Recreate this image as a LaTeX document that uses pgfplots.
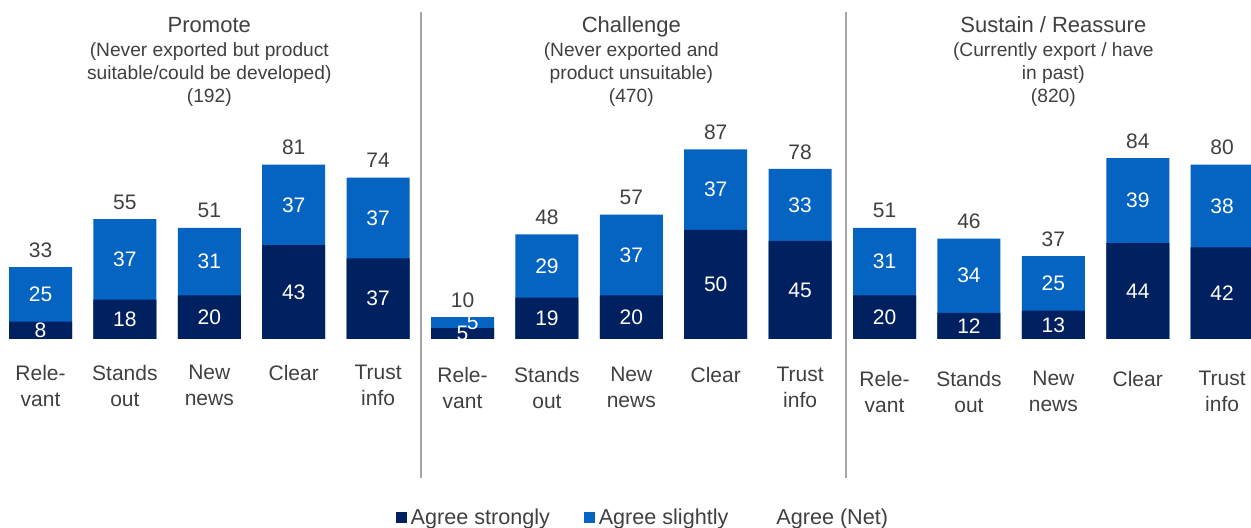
\documentclass[border=0pt]{standalone}
\usepackage{pgfplots}
\pgfplotsset{compat=1.18}
\usepackage{pgfplotstable}
\usepackage{fontspec}
\setmainfont{Liberation Sans}
\definecolor{dark}{HTML}{002060}
\definecolor{light}{HTML}{0563C1}
\definecolor{txt}{HTML}{404040}
\definecolor{sepc}{HTML}{A6A6A6}

\pgfplotstableread{
x strong slight total sx
0 8 25 33 0
1 18 37 55 1
2 20 31 51 2
3 43 37 81 3
4 37 37 74 4
5 5 5 10 5.12
6 19 29 48 6
7 20 37 57 7
8 50 37 87 8
9 45 33 78 9
10 20 31 51 10
11 12 34 46 11
12 13 25 37 12
13 44 39 84 13
14 42 38 80 14
}\data

\begin{document}
\begin{tikzpicture}
\begin{axis}[
  scale only axis, width=625.5pt, height=264pt,
  xmin=-0.48, xmax=14.342, ymin=-86.7, ymax=155.5,
  hide axis,
  legend columns=3,
  legend style={at={(axis cs:7.15,-82)}, anchor=center, draw=none, fill=none,
    font=\fontsize{10.8}{12}\selectfont, text=txt,
    /tikz/every even column/.append style={column sep=15pt}},
]
\addplot[ybar, bar width=31.5pt, bar shift=0pt, fill=light, draw=none, forget plot]
  table[x=x, y expr=\thisrow{strong}+\thisrow{slight}] {\data};
\addplot[ybar, bar width=31.5pt, bar shift=0pt, fill=dark, draw=none, forget plot]
  table[x=x, y=strong] {\data};

% segment labels
\addplot[only marks, mark=none, forget plot, nodes near coords, point meta=explicit symbolic,
  nodes near coords style={anchor=center, text=white, font=\fontsize{10.5}{12}\selectfont}]
  table[x=x, y expr=\thisrow{strong}/2, meta=strong] {\data};
\addplot[only marks, mark=none, forget plot, nodes near coords, point meta=explicit symbolic,
  nodes near coords style={anchor=center, text=white, font=\fontsize{10.5}{12}\selectfont}]
  table[x=sx, y expr=\thisrow{strong}+\thisrow{slight}/2, meta=slight] {\data};
% totals
\addplot[only marks, mark=none, forget plot, nodes near coords, point meta=explicit symbolic,
  nodes near coords style={anchor=center, yshift=8.5pt, text=txt, font=\fontsize{10.5}{12}\selectfont}]
  table[x=x, y expr=\thisrow{strong}+\thisrow{slight}, meta=total] {\data};

\addlegendimage{legend image code/.code={\fill[dark] (0pt,-2.5pt) rectangle (5pt,2.5pt);}}
\addlegendentry{Agree strongly}
\addlegendimage{legend image code/.code={\fill[light] (0pt,-2.5pt) rectangle (5pt,2.5pt);}}
\addlegendentry{Agree slightly}
\addlegendimage{legend image code/.code={\path[draw=none,fill=none] (0pt,-2.5pt) rectangle (5pt,2.5pt);}}
\addlegendentry{Agree (Net)}

% separators
\draw[sepc, line width=0.75pt] (axis cs:4.508,150) -- (axis cs:4.508,-63.8);
\draw[sepc, line width=0.75pt] (axis cs:9.544,150) -- (axis cs:9.544,-63.8);

% titles
\tikzset{ttl/.style={anchor=base, text=txt, inner sep=0pt, font=\fontsize{11}{12}\selectfont},
  sub/.style={anchor=north, align=center, text=txt, inner sep=0pt, font=\fontsize{9.6}{11.5}\selectfont},
  cat/.style={anchor=north, align=center, text=txt, inner sep=0pt, font=\fontsize{10.5}{13}\selectfont}}
\node[ttl] at (axis cs:2,140.7) {Promote};
\node[sub] at (axis cs:2,136.0) {(Never exported but product\\suitable/could be developed)\\(192)};
\node[ttl] at (axis cs:7,140.7) {Challenge};
\node[sub] at (axis cs:7,136.0) {(Never exported and\\product unsuitable)\\(470)};
\node[ttl] at (axis cs:12,140.7) {Sustain / Reassure};
\node[sub] at (axis cs:12,136.0) {(Currently export / have\\in past)\\(820)};

% category labels
\node[cat] at (axis cs:0,-11.7) {Rele-\\vant};
\node[cat] at (axis cs:1,-11.7) {Stands\\out};
\node[cat] at (axis cs:2,-11.7) {New\\news};
\node[cat] at (axis cs:3,-11.7) {Clear};
\node[cat] at (axis cs:4,-11.7) {Trust\\info};
\node[cat] at (axis cs:5,-12.8) {Rele-\\vant};
\node[cat] at (axis cs:6,-12.8) {Stands\\out};
\node[cat] at (axis cs:7,-12.8) {New\\news};
\node[cat] at (axis cs:8,-12.8) {Clear};
\node[cat] at (axis cs:9,-12.8) {Trust\\info};
\node[cat] at (axis cs:10,-14.6) {Rele-\\vant};
\node[cat] at (axis cs:11,-14.6) {Stands\\out};
\node[cat] at (axis cs:12,-14.6) {New\\news};
\node[cat] at (axis cs:13,-14.6) {Clear};
\node[cat] at (axis cs:14,-14.6) {Trust\\info};
\end{axis}
\pgfresetboundingbox
\path (current axis.south west) rectangle (current axis.north east);
\end{tikzpicture}
\end{document}
